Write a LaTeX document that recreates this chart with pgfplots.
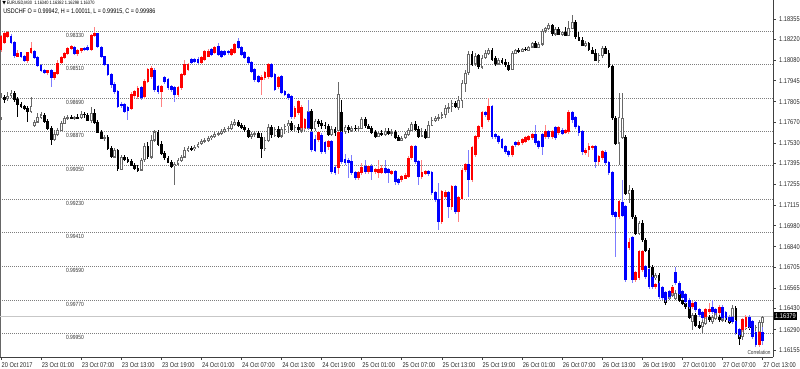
\documentclass[border=0pt]{standalone}
\usepackage{pgfplots}
\pgfplotsset{compat=1.18}
\usepackage{pgfplotstable}
\usepackage{fontspec}
\setmainfont{Liberation Sans}[FakeStretch=0.82]
\newfontfamily\symfont{DejaVu Sans}
\definecolor{gridc}{RGB}{125,125,125}
\definecolor{bullc}{RGB}{105,105,105}
\definecolor{chfblue}{RGB}{0,0,255}
\definecolor{chfred}{RGB}{255,0,0}
\definecolor{chfbluew}{RGB}{125,125,255}
\definecolor{chfredw}{RGB}{255,130,130}

% EURUSD M30, bullish candles: index open high low close
\pgfplotstableread{
i o h l c
0 1.17703 1.17863 1.17683 1.17836
2 1.17823 1.17870 1.17810 1.17843
3 1.17843 1.17883 1.17830 1.17863
9 1.17743 1.17836 1.17730 1.17776
10 1.17650 1.17683 1.17637 1.17670
11 1.17670 1.17730 1.17663 1.17703
12 1.17703 1.17737 1.17690 1.17717
16 1.17557 1.17617 1.17544 1.17590
17 1.17590 1.17630 1.17577 1.17617
18 1.17617 1.17677 1.17610 1.17663
19 1.17663 1.17710 1.17657 1.17697
20 1.17697 1.17717 1.17683 1.17703
22 1.17697 1.17710 1.17683 1.17703
24 1.17697 1.17743 1.17690 1.17723
27 1.17683 1.17770 1.17663 1.17730
31 1.17564 1.17584 1.17544 1.17570
34 1.17438 1.17497 1.17431 1.17484
36 1.17358 1.17451 1.17351 1.17438
42 1.17351 1.17431 1.17344 1.17418
43 1.17418 1.17531 1.17404 1.17511
45 1.17438 1.17584 1.17424 1.17550
46 1.17550 1.17617 1.17537 1.17604
52 1.17378 1.17404 1.17251 1.17391
53 1.17391 1.17431 1.17378 1.17418
54 1.17418 1.17451 1.17404 1.17438
55 1.17438 1.17504 1.17431 1.17484
56 1.17484 1.17511 1.17471 1.17497
58 1.17491 1.17517 1.17477 1.17504
59 1.17504 1.17537 1.17497 1.17524
60 1.17524 1.17557 1.17517 1.17544
61 1.17544 1.17564 1.17531 1.17550
62 1.17550 1.17577 1.17537 1.17564
63 1.17564 1.17584 1.17550 1.17577
64 1.17577 1.17604 1.17564 1.17590
65 1.17590 1.17610 1.17577 1.17597
66 1.17597 1.17624 1.17584 1.17610
67 1.17610 1.17637 1.17597 1.17624
68 1.17624 1.17644 1.17610 1.17630
69 1.17630 1.17677 1.17617 1.17657
70 1.17657 1.17690 1.17644 1.17670
75 1.17577 1.17604 1.17557 1.17590
76 1.17590 1.17610 1.17570 1.17597
79 1.17491 1.17570 1.17477 1.17550
80 1.17550 1.17657 1.17537 1.17637
82 1.17584 1.17637 1.17570 1.17624
84 1.17577 1.17637 1.17564 1.17624
85 1.17624 1.17657 1.17590 1.17644
86 1.17644 1.17683 1.17597 1.17663
88 1.17624 1.17650 1.17604 1.17637
90 1.17617 1.17650 1.17597 1.17630
91 1.17630 1.17657 1.17604 1.17644
92 1.17630 1.17763 1.17617 1.17743
94 1.17630 1.17690 1.17610 1.17677
99 1.17590 1.17644 1.17577 1.17624
101 1.17617 1.17936 1.17597 1.17856
103 1.17604 1.17650 1.17590 1.17637
105 1.17617 1.17644 1.17604 1.17630
107 1.17624 1.17644 1.17610 1.17630
108 1.17630 1.17703 1.17624 1.17690
113 1.17577 1.17610 1.17570 1.17597
115 1.17590 1.17630 1.17577 1.17610
117 1.17597 1.17624 1.17577 1.17604
120 1.17550 1.17577 1.17544 1.17564
121 1.17564 1.17604 1.17557 1.17590
122 1.17590 1.17630 1.17577 1.17617
123 1.17617 1.17670 1.17610 1.17657
126 1.17577 1.17630 1.17570 1.17610
128 1.17570 1.17677 1.17564 1.17650
129 1.17650 1.17703 1.17644 1.17683
130 1.17683 1.17710 1.17670 1.17697
131 1.17697 1.17723 1.17677 1.17703
132 1.17703 1.17737 1.17690 1.17717
133 1.17717 1.17783 1.17697 1.17763
134 1.17763 1.17796 1.17730 1.17770
135 1.17770 1.17816 1.17737 1.17796
137 1.17770 1.17843 1.17750 1.17816
138 1.17816 1.17949 1.17763 1.17929
139 1.17929 1.18016 1.17870 1.17996
140 1.17996 1.18142 1.17983 1.18122
142 1.18056 1.18129 1.18042 1.18109
144 1.18036 1.18115 1.18022 1.18096
145 1.18096 1.18149 1.18089 1.18129
146 1.18129 1.18162 1.18115 1.18149
149 1.18056 1.18096 1.18049 1.18082
153 1.18022 1.18142 1.18016 1.18129
154 1.18129 1.18155 1.18122 1.18149
156 1.18142 1.18162 1.18135 1.18155
158 1.18149 1.18175 1.18142 1.18169
159 1.18169 1.18202 1.18162 1.18195
161 1.18169 1.18202 1.18162 1.18189
162 1.18189 1.18288 1.18175 1.18275
163 1.18275 1.18302 1.18262 1.18295
164 1.18295 1.18328 1.18282 1.18315
166 1.18255 1.18302 1.18242 1.18288
168 1.18255 1.18275 1.18242 1.18268
170 1.18248 1.18341 1.18242 1.18295
171 1.18295 1.18381 1.18288 1.18335
175 1.18182 1.18208 1.18169 1.18195
179 1.18082 1.18129 1.18062 1.18115
180 1.18115 1.18175 1.18096 1.18162
185 1.17531 1.17863 1.17384 1.17703
186 1.17570 1.17863 1.17557 1.17697
188 1.17198 1.17251 1.17132 1.17218
191 1.16932 1.17012 1.16919 1.16999
196 1.16633 1.16667 1.16620 1.16653
200 1.16500 1.16554 1.16487 1.16540
201 1.16520 1.16587 1.16507 1.16567
202 1.16500 1.16554 1.16487 1.16534
207 1.16341 1.16401 1.16288 1.16387
210 1.16308 1.16354 1.16268 1.16341
211 1.16334 1.16387 1.16321 1.16374
213 1.16341 1.16387 1.16328 1.16374
214 1.16367 1.16414 1.16354 1.16401
216 1.16354 1.16401 1.16341 1.16387
219 1.16367 1.16454 1.16354 1.16434
222 1.16248 1.16301 1.16221 1.16288
223 1.16301 1.16387 1.16288 1.16374
226 1.16268 1.16321 1.16221 1.16308
227 1.16268 1.16354 1.16254 1.16341
228 1.16340 1.16382 1.16298 1.16370
}\eurup

% EURUSD M30, bearish candles
\pgfplotstableread{
i o h l c
1 1.17836 1.17850 1.17796 1.17823
4 1.17863 1.17876 1.17803 1.17823
5 1.17823 1.17836 1.17703 1.17790
6 1.17790 1.17803 1.17763 1.17776
7 1.17776 1.17783 1.17750 1.17763
8 1.17763 1.17776 1.17670 1.17743
13 1.17717 1.17730 1.17663 1.17677
14 1.17677 1.17690 1.17617 1.17630
15 1.17630 1.17644 1.17517 1.17557
21 1.17703 1.17717 1.17690 1.17697
23 1.17703 1.17723 1.17690 1.17697
25 1.17723 1.17737 1.17697 1.17717
26 1.17717 1.17730 1.17677 1.17683
28 1.17730 1.17757 1.17657 1.17670
29 1.17670 1.17683 1.17597 1.17604
30 1.17604 1.17617 1.17557 1.17564
32 1.17570 1.17584 1.17484 1.17497
33 1.17497 1.17511 1.17431 1.17438
35 1.17484 1.17491 1.17344 1.17358
37 1.17438 1.17451 1.17411 1.17424
38 1.17424 1.17438 1.17398 1.17411
39 1.17411 1.17424 1.17378 1.17384
40 1.17384 1.17398 1.17351 1.17364
41 1.17364 1.17384 1.17338 1.17351
44 1.17511 1.17537 1.17424 1.17438
47 1.17604 1.17617 1.17511 1.17524
48 1.17524 1.17544 1.17451 1.17464
49 1.17464 1.17477 1.17418 1.17431
50 1.17431 1.17444 1.17398 1.17404
51 1.17404 1.17418 1.17364 1.17378
57 1.17497 1.17511 1.17477 1.17491
71 1.17670 1.17683 1.17637 1.17650
72 1.17650 1.17663 1.17624 1.17637
73 1.17637 1.17650 1.17604 1.17617
74 1.17617 1.17630 1.17564 1.17577
77 1.17597 1.17610 1.17564 1.17570
78 1.17570 1.17597 1.17431 1.17491
81 1.17637 1.17650 1.17564 1.17584
83 1.17624 1.17644 1.17564 1.17577
87 1.17663 1.17677 1.17610 1.17624
89 1.17637 1.17657 1.17597 1.17617
93 1.17743 1.17757 1.17610 1.17630
95 1.17677 1.17690 1.17637 1.17663
96 1.17663 1.17683 1.17624 1.17650
97 1.17650 1.17670 1.17624 1.17644
98 1.17644 1.17657 1.17577 1.17590
100 1.17624 1.17637 1.17577 1.17604
102 1.17737 1.17816 1.17590 1.17604
104 1.17637 1.17650 1.17597 1.17617
106 1.17630 1.17650 1.17610 1.17624
109 1.17690 1.17703 1.17630 1.17644
110 1.17644 1.17657 1.17624 1.17630
111 1.17630 1.17644 1.17590 1.17604
112 1.17604 1.17617 1.17564 1.17577
114 1.17597 1.17617 1.17577 1.17590
116 1.17610 1.17630 1.17584 1.17597
118 1.17604 1.17617 1.17557 1.17570
119 1.17570 1.17584 1.17544 1.17550
124 1.17657 1.17677 1.17610 1.17624
125 1.17624 1.17644 1.17564 1.17577
127 1.17610 1.17624 1.17557 1.17570
136 1.17796 1.17810 1.17763 1.17770
141 1.18122 1.18142 1.18042 1.18056
143 1.18109 1.18122 1.18022 1.18036
147 1.18149 1.18162 1.18076 1.18089
148 1.18089 1.18109 1.18042 1.18056
150 1.18082 1.18096 1.18056 1.18069
151 1.18069 1.18089 1.18036 1.18049
152 1.18049 1.18069 1.18009 1.18022
155 1.18149 1.18162 1.18129 1.18142
157 1.18155 1.18169 1.18142 1.18149
160 1.18195 1.18208 1.18162 1.18169
165 1.18315 1.18321 1.18242 1.18255
167 1.18288 1.18302 1.18248 1.18255
169 1.18268 1.18302 1.18242 1.18248
172 1.18335 1.18348 1.18222 1.18235
173 1.18235 1.18268 1.18208 1.18215
174 1.18215 1.18235 1.18175 1.18182
176 1.18195 1.18202 1.18142 1.18149
177 1.18149 1.18169 1.18122 1.18129
178 1.18129 1.18155 1.18076 1.18082
181 1.18162 1.18175 1.18122 1.18129
182 1.18129 1.18149 1.18029 1.18036
183 1.18036 1.18049 1.17683 1.17697
184 1.17697 1.17710 1.17517 1.17531
187 1.17570 1.17584 1.17185 1.17198
189 1.17218 1.17231 1.17025 1.17039
190 1.17039 1.17052 1.16919 1.16932
192 1.16999 1.17019 1.16873 1.16886
193 1.16886 1.16899 1.16806 1.16819
194 1.16819 1.16833 1.16700 1.16706
195 1.16706 1.16720 1.16627 1.16640
197 1.16653 1.16667 1.16540 1.16554
198 1.16554 1.16573 1.16507 1.16520
199 1.16520 1.16540 1.16454 1.16474
203 1.16534 1.16554 1.16474 1.16487
204 1.16487 1.16520 1.16454 1.16467
205 1.16467 1.16494 1.16427 1.16441
206 1.16441 1.16454 1.16361 1.16374
208 1.16387 1.16401 1.16308 1.16321
209 1.16321 1.16347 1.16294 1.16308
212 1.16374 1.16387 1.16341 1.16354
215 1.16374 1.16387 1.16341 1.16354
217 1.16374 1.16387 1.16341 1.16354
218 1.16367 1.16381 1.16328 1.16341
220 1.16434 1.16447 1.16254 1.16268
221 1.16274 1.16288 1.16188 1.16234
224 1.16354 1.16367 1.16288 1.16308
225 1.16341 1.16354 1.16254 1.16268
}\eurdn

% USDCHF M30 (inverted scale), rising candles (blue)
\pgfplotstableread{
i o h l c
3 0.98357 0.98399 0.98346 0.98394
4 0.98394 0.98474 0.98383 0.98464
6 0.98448 0.98474 0.98442 0.98469
7 0.98469 0.98496 0.98458 0.98490
10 0.98442 0.98480 0.98432 0.98474
11 0.98474 0.98523 0.98464 0.98517
12 0.98517 0.98549 0.98507 0.98544
13 0.98544 0.98560 0.98533 0.98555
15 0.98544 0.98630 0.98533 0.98581
22 0.98416 0.98458 0.98410 0.98453
25 0.98426 0.98437 0.98416 0.98432
26 0.98421 0.98437 0.98405 0.98432
29 0.98346 0.98421 0.98341 0.98416
30 0.98416 0.98474 0.98410 0.98469
31 0.98469 0.98517 0.98464 0.98512
32 0.98512 0.98571 0.98507 0.98565
33 0.98565 0.98635 0.98555 0.98619
34 0.98619 0.98667 0.98603 0.98656
35 0.98656 0.98742 0.98646 0.98737
36 0.98721 0.98742 0.98710 0.98731
37 0.98726 0.98769 0.98715 0.98763
38 0.98742 0.98806 0.98731 0.98758
42 0.98635 0.98699 0.98624 0.98688
46 0.98539 0.98656 0.98528 0.98646
47 0.98630 0.98667 0.98619 0.98656
49 0.98581 0.98614 0.98571 0.98603
50 0.98592 0.98646 0.98581 0.98635
51 0.98630 0.98656 0.98619 0.98646
52 0.98635 0.98710 0.98624 0.98672
57 0.98485 0.98507 0.98474 0.98501
58 0.98485 0.98501 0.98474 0.98496
59 0.98485 0.98507 0.98469 0.98501
63 0.98432 0.98464 0.98421 0.98458
65 0.98416 0.98464 0.98394 0.98458
66 0.98442 0.98474 0.98432 0.98469
67 0.98442 0.98464 0.98432 0.98458
68 0.98442 0.98458 0.98432 0.98448
71 0.98389 0.98426 0.98367 0.98421
72 0.98421 0.98464 0.98410 0.98458
73 0.98448 0.98480 0.98437 0.98474
74 0.98474 0.98507 0.98464 0.98501
75 0.98501 0.98555 0.98490 0.98549
76 0.98539 0.98603 0.98528 0.98592
77 0.98576 0.98608 0.98565 0.98603
81 0.98512 0.98581 0.98501 0.98576
82 0.98565 0.98651 0.98555 0.98646
84 0.98576 0.98667 0.98565 0.98662
85 0.98656 0.98678 0.98646 0.98672
86 0.98672 0.98699 0.98662 0.98688
87 0.98683 0.98801 0.98672 0.98790
92 0.98769 0.98860 0.98699 0.98849
93 0.98876 0.98978 0.98865 0.98967
94 0.98913 0.98978 0.98887 0.98967
96 0.98887 0.98988 0.98876 0.98978
97 0.98929 0.98988 0.98919 0.98978
99 0.98924 0.99095 0.98913 0.99085
100 0.99058 0.99101 0.99047 0.99090
102 0.98876 0.99042 0.98865 0.99031
103 0.99020 0.99047 0.98988 0.99036
104 0.99026 0.99117 0.99010 0.99036
105 0.99031 0.99101 0.98994 0.99090
106 0.99090 0.99127 0.99079 0.99117
109 0.99058 0.99095 0.99020 0.99085
111 0.99058 0.99127 0.99042 0.99085
115 0.99063 0.99095 0.99020 0.99085
116 0.99074 0.99143 0.99063 0.99090
118 0.99085 0.99154 0.99074 0.99138
119 0.99127 0.99154 0.99117 0.99143
124 0.98951 0.99042 0.98940 0.99031
125 0.99031 0.99154 0.99020 0.99111
128 0.99085 0.99106 0.99074 0.99095
129 0.99090 0.99208 0.99079 0.99197
130 0.99197 0.99245 0.99186 0.99234
131 0.99234 0.99395 0.99143 0.99352
134 0.99197 0.99331 0.99186 0.99272
136 0.99165 0.99309 0.99154 0.99299
140 0.99047 0.99218 0.98967 0.99127
145 0.98769 0.98790 0.98758 0.98779
147 0.98737 0.98908 0.98726 0.98897
148 0.98887 0.98908 0.98876 0.98897
149 0.98897 0.98935 0.98887 0.98924
150 0.98913 0.98961 0.98903 0.98951
151 0.98951 0.98988 0.98940 0.98978
152 0.98978 0.99004 0.98967 0.98994
154 0.98929 0.98951 0.98919 0.98940
160 0.98887 0.98940 0.98833 0.98929
161 0.98924 0.98961 0.98913 0.98951
162 0.98887 0.98994 0.98876 0.98951
164 0.98870 0.98908 0.98860 0.98897
166 0.98849 0.98913 0.98838 0.98903
168 0.98860 0.98887 0.98849 0.98876
171 0.98769 0.98822 0.98758 0.98806
172 0.98796 0.98854 0.98785 0.98844
173 0.98844 0.98893 0.98833 0.98876
174 0.98870 0.98994 0.98860 0.98978
178 0.98951 0.99063 0.98940 0.99031
181 0.98978 0.99047 0.98967 0.99036
182 0.99036 0.99101 0.99026 0.99090
183 0.99090 0.99325 0.99079 0.99315
184 0.99304 0.99539 0.99293 0.99325
186 0.99245 0.99325 0.99127 0.99315
187 0.99272 0.99673 0.99261 0.99663
189 0.99438 0.99679 0.99427 0.99663
193 0.99593 0.99657 0.99582 0.99647
194 0.99609 0.99711 0.99598 0.99700
195 0.99647 0.99711 0.99636 0.99700
197 0.99679 0.99764 0.99668 0.99754
198 0.99705 0.99770 0.99695 0.99759
199 0.99732 0.99780 0.99721 0.99770
200 0.99727 0.99764 0.99716 0.99754
202 0.99625 0.99689 0.99593 0.99679
203 0.99679 0.99743 0.99668 0.99732
204 0.99727 0.99770 0.99716 0.99759
205 0.99743 0.99791 0.99732 0.99780
206 0.99770 0.99818 0.99759 0.99807
208 0.99786 0.99834 0.99775 0.99823
209 0.99823 0.99861 0.99812 0.99850
210 0.99839 0.99877 0.99828 0.99866
213 0.99812 0.99845 0.99770 0.99834
214 0.99823 0.99850 0.99812 0.99839
216 0.99807 0.99871 0.99796 0.99861
217 0.99839 0.99877 0.99828 0.99866
218 0.99861 0.99887 0.99850 0.99877
219 0.99866 0.99898 0.99855 0.99887
220 0.99887 0.99957 0.99877 0.99946
221 0.99930 0.99968 0.99919 0.99957
224 0.99861 0.99925 0.99850 0.99914
225 0.99887 0.99978 0.99877 0.99968
226 0.99946 1.00021 0.99936 1.00010
228 0.99942 1.00011 0.99915 0.99986
}\chfup

% USDCHF M30, falling candles (red)
\pgfplotstableread{
i o h l c
0 0.98432 0.98442 0.98351 0.98362
1 0.98394 0.98399 0.98335 0.98346
2 0.98362 0.98367 0.98330 0.98341
5 0.98464 0.98469 0.98432 0.98448
8 0.98490 0.98501 0.98442 0.98448
9 0.98448 0.98453 0.98389 0.98426
14 0.98555 0.98565 0.98539 0.98544
16 0.98581 0.98592 0.98549 0.98555
17 0.98555 0.98565 0.98485 0.98501
18 0.98501 0.98507 0.98464 0.98474
19 0.98474 0.98480 0.98442 0.98453
20 0.98453 0.98458 0.98416 0.98426
21 0.98426 0.98432 0.98405 0.98416
23 0.98453 0.98464 0.98426 0.98437
24 0.98437 0.98448 0.98421 0.98426
27 0.98432 0.98437 0.98346 0.98357
28 0.98357 0.98362 0.98309 0.98346
39 0.98742 0.98753 0.98656 0.98667
40 0.98678 0.98688 0.98646 0.98656
41 0.98683 0.98694 0.98624 0.98635
43 0.98683 0.98694 0.98587 0.98598
44 0.98603 0.98608 0.98528 0.98539
45 0.98576 0.98587 0.98517 0.98528
48 0.98656 0.98737 0.98619 0.98630
53 0.98672 0.98683 0.98624 0.98635
54 0.98635 0.98646 0.98555 0.98565
55 0.98565 0.98571 0.98485 0.98512
56 0.98539 0.98544 0.98501 0.98512
60 0.98501 0.98507 0.98464 0.98474
61 0.98485 0.98490 0.98432 0.98442
62 0.98464 0.98469 0.98426 0.98442
64 0.98448 0.98453 0.98410 0.98421
69 0.98458 0.98464 0.98421 0.98432
70 0.98448 0.98453 0.98394 0.98405
78 0.98592 0.98672 0.98565 0.98576
79 0.98581 0.98592 0.98544 0.98555
80 0.98576 0.98587 0.98501 0.98512
83 0.98630 0.98640 0.98571 0.98581
88 0.98790 0.98801 0.98731 0.98742
89 0.98769 0.98779 0.98699 0.98710
90 0.98849 0.98860 0.98726 0.98737
91 0.98849 0.98860 0.98796 0.98806
95 0.98913 0.98924 0.98865 0.98876
98 0.98951 0.98967 0.98913 0.98924
101 0.99063 0.99095 0.98865 0.98876
107 0.99117 0.99127 0.99079 0.99090
108 0.99090 0.99101 0.99036 0.99063
110 0.99085 0.99095 0.99047 0.99058
112 0.99085 0.99095 0.99063 0.99074
113 0.99090 0.99117 0.99020 0.99074
114 0.99085 0.99095 0.99047 0.99063
117 0.99095 0.99101 0.99074 0.99085
120 0.99127 0.99138 0.99101 0.99111
121 0.99117 0.99122 0.99090 0.99101
122 0.99111 0.99117 0.98999 0.99010
123 0.99010 0.99020 0.98940 0.98951
126 0.99111 0.99122 0.99020 0.99090
127 0.99095 0.99101 0.99074 0.99085
132 0.99352 0.99363 0.99181 0.99192
133 0.99218 0.99229 0.99181 0.99192
135 0.99272 0.99288 0.99154 0.99165
137 0.99299 0.99352 0.99213 0.99224
138 0.99224 0.99234 0.99063 0.99074
139 0.99074 0.99085 0.99036 0.99047
141 0.99127 0.99138 0.98945 0.98956
142 0.98994 0.99004 0.98887 0.98897
143 0.98897 0.98908 0.98833 0.98844
144 0.98844 0.98854 0.98758 0.98769
146 0.98806 0.98817 0.98688 0.98737
153 0.98994 0.99004 0.98940 0.98951
155 0.98940 0.98945 0.98913 0.98924
156 0.98929 0.98940 0.98903 0.98913
157 0.98924 0.98929 0.98893 0.98903
158 0.98913 0.98919 0.98887 0.98897
159 0.98903 0.98913 0.98876 0.98887
163 0.98897 0.98908 0.98833 0.98870
165 0.98897 0.98908 0.98860 0.98870
167 0.98876 0.98887 0.98838 0.98849
169 0.98876 0.98881 0.98854 0.98865
170 0.98870 0.98881 0.98753 0.98769
175 0.98983 0.98994 0.98956 0.98967
176 0.98967 0.99004 0.98929 0.98951
177 0.98956 0.98967 0.98940 0.98951
179 0.99031 0.99047 0.98994 0.99004
180 0.99010 0.99020 0.98967 0.98978
185 0.99325 0.99336 0.99234 0.99245
188 0.99491 0.99502 0.99438 0.99465
190 0.99663 0.99673 0.99614 0.99625
191 0.99652 0.99663 0.99502 0.99513
192 0.99609 0.99620 0.99502 0.99513
196 0.99700 0.99711 0.99679 0.99689
201 0.99732 0.99743 0.99695 0.99705
207 0.99807 0.99818 0.99775 0.99786
211 0.99861 0.99871 0.99812 0.99823
212 0.99834 0.99845 0.99786 0.99823
215 0.99839 0.99850 0.99796 0.99807
222 0.99930 0.99941 0.99866 0.99877
223 0.99914 0.99925 0.99850 0.99866
227 1.00010 1.00021 0.99936 0.99946
}\chfdn

\pgfplotsset{
  mtgeom/.style={at={(289.875pt,142.125pt)}, anchor=center, scale only axis,
    width=579.75pt, height=267.75pt, xmin=-0.3, xmax=231.1, clip=true},
  candle/.style 2 args={only marks, mark=*, mark size=0pt,
    mark options={draw=none, fill=none}, forget plot,
    error bars/.cd, y dir=both, y explicit, error mark=none,
    error bar style={line width=#1, color=#2, solid}},
}
\tikzset{lab/.style={anchor=north west, inner sep=0pt, yshift=-1.2pt,
  font=\fontsize{4.5}{5}\selectfont, text=black!80}}

\begin{document}
\begin{tikzpicture}[x=1pt,y=1pt]
\useasboundingbox (0,0) rectangle (600,276);

% USDCHF grid and scale labels
\begin{axis}[mtgeom, ymin=0.98164, ymax=1.000747, y dir=reverse,
  axis line style={draw=none}, xtick=\empty,
  ytick={0.9833,0.9851,0.9869,0.9887,0.9905,0.9923,0.9941,0.9959,0.9977,0.9995},
  yticklabels={}, major tick length=0pt,
  ymajorgrids, grid style={gridc, line width=0.7pt, dash pattern=on 0.75pt off 0.75pt}]
\node[lab] at (axis cs:19.4,0.9833) {0.98330};
\node[lab] at (axis cs:19.4,0.9851) {0.98510};
\node[lab] at (axis cs:19.4,0.9869) {0.98690};
\node[lab] at (axis cs:19.4,0.9887) {0.98870};
\node[lab] at (axis cs:19.4,0.9905) {0.99050};
\node[lab] at (axis cs:19.4,0.9923) {0.99230};
\node[lab] at (axis cs:19.4,0.9941) {0.99410};
\node[lab] at (axis cs:19.4,0.9959) {0.99590};
\node[lab] at (axis cs:19.4,0.9977) {0.99770};
\node[lab] at (axis cs:19.4,0.9995) {0.99950};
\end{axis}

% EURUSD main chart
\begin{axis}[mtgeom, ymin=1.161082, ymax=1.18481,
  axis x line*=bottom, axis y line*=right,
  axis line style={draw=black!75, line width=0.7pt},
  xtick={0,12,...,228},
  xticklabels={20 Oct 2017,23 Oct 01:00,23 Oct 07:00,23 Oct 13:00,23 Oct 19:00,24 Oct 01:00,24 Oct 07:00,24 Oct 13:00,24 Oct 19:00,25 Oct 01:00,25 Oct 07:00,25 Oct 13:00,25 Oct 19:00,26 Oct 01:00,26 Oct 07:00,26 Oct 13:00,26 Oct 19:00,27 Oct 01:00,27 Oct 07:00,27 Oct 13:00},
  ytick={1.16155,1.1629,1.1643,1.16565,1.16705,1.1684,1.1698,1.17115,1.17255,1.17395,1.1753,1.1767,1.17805,1.17945,1.1808,1.1822,1.18355},
  yticklabels={1.16155,1.16290,1.16430,1.16565,1.16705,1.16840,1.16980,1.17115,1.17255,1.17395,1.17530,1.17670,1.17805,1.17945,1.18080,1.18220,1.18355},
  tick align=outside, major tick length=2.2pt, tick style={black!75, line width=0.6pt},
  xticklabel style={anchor=north west, inner sep=0pt, xshift=0.3pt, yshift=-2.2pt, font=\fontsize{5.2}{6}\selectfont, text=black!85},
  yticklabel style={anchor=west, inner sep=0pt, xshift=2.2pt, font=\fontsize{5.2}{6}\selectfont, text=black!85}]
\draw[black!60, line width=0.7pt] (rel axis cs:0,0) -- (rel axis cs:0,1);
\addplot[black!22, line width=0.7pt, forget plot] coordinates {(-0.3,1.16379) (231.1,1.16379)};
% wicks
\addplot[candle={0.75pt}{bullc}] table[x=i, y expr={(\thisrow{h}+\thisrow{l})/2}, y error expr={(\thisrow{h}-\thisrow{l})/2}] {\eurup};
\addplot[candle={0.75pt}{black}] table[x=i, y expr={(\thisrow{h}+\thisrow{l})/2}, y error expr={(\thisrow{h}-\thisrow{l})/2}] {\eurdn};
% bodies
\addplot[candle={2.1pt}{bullc}] table[x=i, y expr={(\thisrow{o}+\thisrow{c})/2}, y error expr={abs(\thisrow{c}-\thisrow{o})/2+0.00003}] {\eurup};
\addplot[candle={0.6pt}{white}] table[x=i, y expr={(\thisrow{o}+\thisrow{c})/2}, y error expr={max(abs(\thisrow{c}-\thisrow{o})/2-0.00004,0)}] {\eurup};
\addplot[candle={2.1pt}{black}] table[x=i, y expr={(\thisrow{o}+\thisrow{c})/2}, y error expr={abs(\thisrow{c}-\thisrow{o})/2+0.00003}] {\eurdn};
\end{axis}

% USDCHF overlay candles
\begin{axis}[mtgeom, ymin=0.98164, ymax=1.000747, y dir=reverse, hide axis]
\addplot[candle={0.75pt}{chfbluew}] table[x=i, y expr={(\thisrow{h}+\thisrow{l})/2}, y error expr={(\thisrow{h}-\thisrow{l})/2}] {\chfup};
\addplot[candle={0.75pt}{chfredw}] table[x=i, y expr={(\thisrow{h}+\thisrow{l})/2}, y error expr={(\thisrow{h}-\thisrow{l})/2}] {\chfdn};
\addplot[candle={2.1pt}{chfblue}] table[x=i, y expr={(\thisrow{o}+\thisrow{c})/2}, y error expr={abs(\thisrow{c}-\thisrow{o})/2+0.000025}] {\chfup};
\addplot[candle={2.1pt}{chfred}] table[x=i, y expr={(\thisrow{o}+\thisrow{c})/2}, y error expr={abs(\thisrow{c}-\thisrow{o})/2+0.000025}] {\chfdn};
\end{axis}

% header, indicator name and current price marker
\node[anchor=west, inner sep=0pt, font=\fontsize{3.6}{4}\selectfont] at (1.5,273.8) {{\symfont ▼}\,EURUSD,M30\ \ 1.16340 1.16382 1.16298 1.16370};
\node[anchor=west, inner sep=0pt, font=\fontsize{5}{6}\selectfont] at (2.25,267.5) {USDCHF O = 0.99942, H = 1.00011, L = 0.99915, C = 0.99986};
\node[anchor=center, inner sep=0pt, font=\fontsize{4.3}{5}\selectfont, text=black!80] at (569.3,11.4) {Correlation};
\node[anchor=west, fill=black, text=white, inner xsep=0.9pt, inner ysep=1pt, font=\fontsize{5.2}{6}\selectfont] at (580.3,38.8) {1.16379};
\end{tikzpicture}
\end{document}
